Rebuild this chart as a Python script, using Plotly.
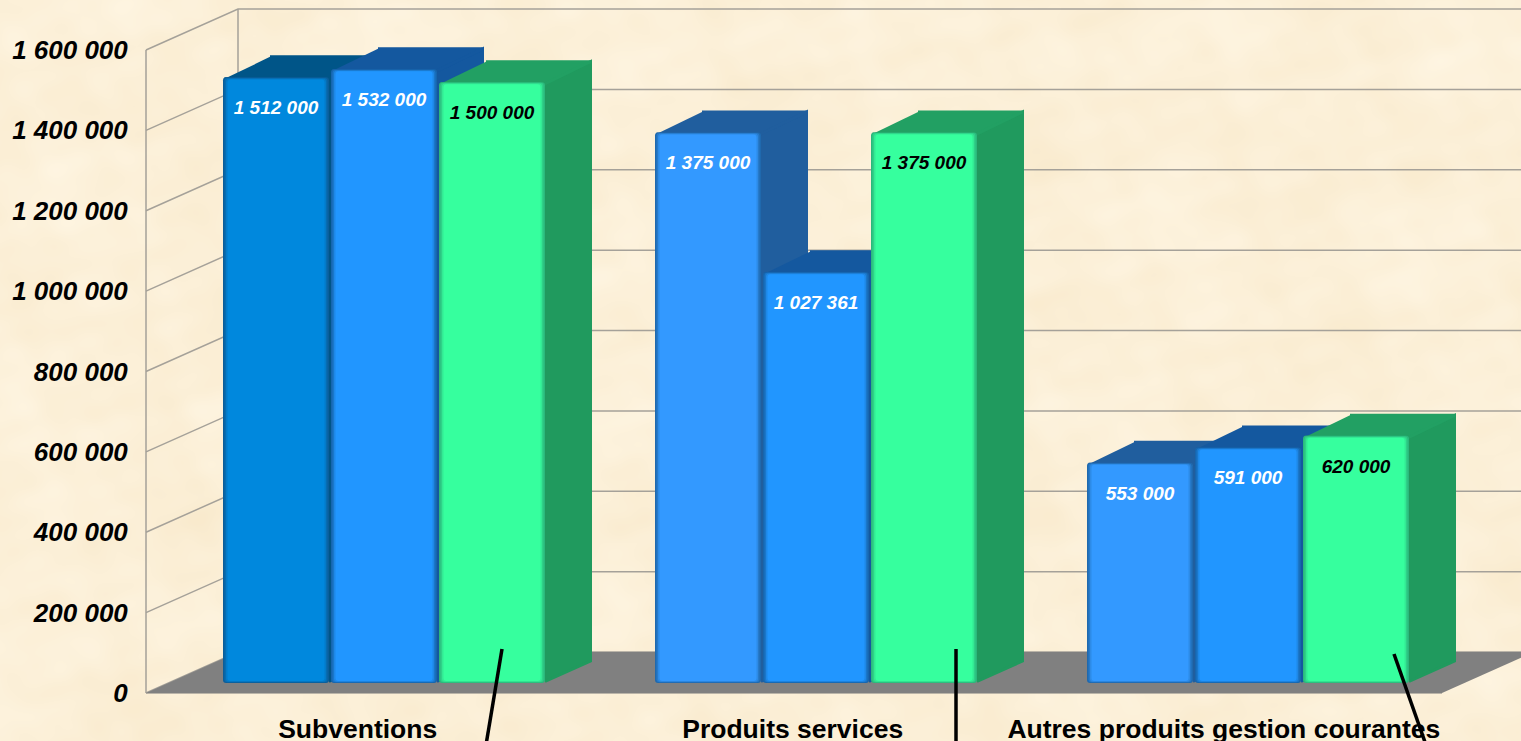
import base64, struct, zlib
import numpy as np
import plotly.graph_objects as go

categories = ["Subventions", "Produits services", "Autres produits gestion courantes"]
series_a = [1512000, 1375000, 553000]
series_b = [1532000, 1027361, 591000]
series_c = [1500000, 1375000, 620000]
tick_values = [0, 200000, 400000, 600000, 800000, 1000000, 1200000, 1400000, 1600000]
tick_labels = ["0", "200 000", "400 000", "600 000", "800 000", "1 000 000", "1 200 000", "1 400 000", "1 600 000"]
value_labels_a = ["1 512 000", "1 375 000", "553 000"]
value_labels_b = ["1 532 000", "1 027 361", "591 000"]
value_labels_c = ["1 500 000", "1 375 000", "620 000"]

W, H = 1521, 741
PX_X = 432.0
KY = 643 / 1600000
X0 = 146
Y0 = 693
BAR_Y0 = 685
BAR_BOTTOM = 683
DX = 47 / PX_X
DY = 22 / KY
SHIFT = (Y0 - BAR_Y0) / KY
BASE2 = (BAR_Y0 - BAR_BOTTOM) / KY
PITCH = 0.25
BAR_W = 106 / PX_X
PLANE = 22 / PX_X
WALL_DX = 92 / PX_X
WALL_DY = 41 / KY

series = [
    dict(v=series_a, t=value_labels_a, front=["#0088DD", "#3399FF", "#3399FF"],
         top=["#005588", "#205E9E", "#205E9E"], side=["#005588", "#205E9E", "#205E9E"],
         edge=["#0B5E9A", "#1F69AE", "#1F69AE"], text="#FFFFFF", off=-PITCH),
    dict(v=series_b, t=value_labels_b, front=["#2196FF", "#2196FF", "#2196FF"],
         top=["#14589F", "#14589F", "#14589F"], side=["#14589F", "#14589F", "#14589F"],
         edge=["#1766AE", "#1766AE", "#1766AE"], text="#FFFFFF", off=0.0),
    dict(v=series_c, t=value_labels_c, front=["#36FF9E"] * 3,
         top=["#22A063"] * 3, side=["#209A5E"] * 3,
         edge=["#2BB87C"] * 3, text="#000000", off=PITCH),
]


def texture():
    yy, xx = np.mgrid[0:H, 0:W]
    n = np.zeros((H, W))
    for fx, fy, ph, a in [(0.011, 0.017, 0.3, 1.6), (0.023, 0.009, 1.7, 1.4), (0.041, 0.037, 2.9, 1.1),
                          (0.067, 0.053, 0.8, 0.8), (0.019, 0.061, 4.1, 0.9), (0.097, 0.083, 5.3, 0.6),
                          (0.131, 0.029, 2.2, 0.5), (0.007, 0.113, 3.6, 0.6)]:
        n += a * np.sin(fx * xx + fy * yy + ph) * np.sin(fy * xx * 0.7 - fx * yy * 1.3 + ph * 2)
    rgb = np.stack([252 + 0.5 * n, 240 + 1.0 * n, 216 + 1.9 * n], axis=-1)
    rgb = np.clip(rgb, 0, 255).astype(np.uint8)
    raw = b"".join(b"\x00" + rgb[i].tobytes() for i in range(H))

    def chunk(tag, data):
        return struct.pack(">I", len(data)) + tag + data + struct.pack(">I", zlib.crc32(tag + data))

    png = b"\x89PNG\r\n\x1a\n" + chunk(b"IHDR", struct.pack(">IIBBBBB", W, H, 8, 2, 0, 0, 0)) \
        + chunk(b"IDAT", zlib.compress(raw, 6)) + chunk(b"IEND", b"")
    return "data:image/png;base64," + base64.b64encode(png).decode()


def mix(c1, c2, t):
    a = [int(c1[i:i + 2], 16) for i in (1, 3, 5)]
    b = [int(c2[i:i + 2], 16) for i in (1, 3, 5)]
    return "#%02X%02X%02X" % tuple(round(a[i] + (b[i] - a[i]) * t) for i in range(3))


fig = go.Figure()
GRID = "#A5A199"
x_left, x_right = 0.0, 3.0


def poly(xs, ys, color, lw=0.0):
    fig.add_trace(go.Scatter(x=xs, y=ys, mode="lines", fill="toself", fillcolor=color,
                             line=dict(color=color, width=lw), hoverinfo="skip", showlegend=False))


# walls and grid
gx, gy = [], []
for t in tick_values:
    gx += [x_left, x_left + WALL_DX, x_right + WALL_DX, None]
    gy += [t, t + WALL_DY, t + WALL_DY, None]
gx += [x_left, x_left, None, x_left + WALL_DX, x_left + WALL_DX, None, x_left, x_right]
gy += [0, tick_values[-1], None, WALL_DY, tick_values[-1] + WALL_DY, None, 0, 0]
fig.add_trace(go.Scatter(x=gx, y=gy, mode="lines", line=dict(color=GRID, width=1.5),
                         hoverinfo="skip", showlegend=False))

# floor
poly([x_left, x_right, x_right + WALL_DX, x_left + WALL_DX],
     [0, 0, WALL_DY, WALL_DY], "#808080")

# side and top faces, left to right, slightly inset and stroked so the corners round off
INX = 1.5 / PX_X
INY = 1.5 / KY
for g in range(3):
    for s in series:
        c = g + 0.5 + PLANE + s["off"]
        L, R = c - BAR_W / 2, c + BAR_W / 2
        top = s["v"][g] + SHIFT
        bottom = (Y0 - BAR_BOTTOM) / KY
        poly([R, R + DX - INX, R + DX - INX, R],
             [top - INY, top + DY - INY, bottom + DY, bottom + INY], s["side"][g], 3)
        poly([L + INX, R, R + DX - INX, L + DX],
             [top - INY, top - INY, top + DY - INY, top + DY - INY], s["top"][g], 3)

# bar fronts with soft bevel edges
LAYERS = [(0, 0.0), (1.5, 0.35), (3, 0.7), (4.5, 1.0)]
for s in series:
    xs = [g + 0.5 + PLANE + s["off"] for g in range(3)]
    for inset, t in LAYERS:
        colors = [mix(s["edge"][i], s["front"][i], t) for i in range(3)]
        ins_v = inset * 0.45 / KY
        base = BASE2 + ins_v
        fig.add_trace(go.Bar(
            x=xs, y=[v - base - ins_v for v in s["v"]], base=[base] * 3,
            width=BAR_W - 2 * inset / PX_X,
            marker=dict(color=colors, line=dict(width=0)),
            yaxis="y2", hoverinfo="skip", showlegend=False))

# value labels
LABEL_DROP = 32 / KY
for s in series:
    fig.add_trace(go.Scatter(
        x=[g + 0.5 + PLANE + s["off"] for g in range(3)],
        y=[v - LABEL_DROP for v in s["v"]],
        mode="text", text=s["t"], yaxis="y2",
        textfont=dict(family="Liberation Sans", size=19, color=s["text"], weight="bold", style="italic"),
        textposition="middle center", hoverinfo="skip", showlegend=False))


def px(x, y):
    return x / W, 1 - y / H


leaders = [((502, 649), (486, 745)), ((956, 649), (956, 745)), ((1394, 654), (1426, 745))]
shapes = []
for a, b in leaders:
    xa, ya = px(*a)
    xb, yb = px(*b)
    shapes.append(dict(type="line", xref="paper", yref="paper", x0=xa, y0=ya, x1=xb, y1=yb,
                       line=dict(color="#000000", width=3.5), layer="above"))

fig.update_layout(
    width=W, height=H, margin=dict(l=0, r=0, t=0, b=0, autoexpand=False),
    paper_bgcolor="#FCF0D8", plot_bgcolor="rgba(0,0,0,0)",
    barmode="overlay", barcornerradius=3, showlegend=False,
    images=[dict(source=texture(), xref="paper", yref="paper", x=0, y=1, sizex=1, sizey=1,
                 sizing="stretch", layer="below", xanchor="left", yanchor="top")],
    shapes=shapes,
    xaxis=dict(range=[-X0 / PX_X, (W - X0) / PX_X], domain=[0, 1], anchor="free", position=(H - Y0) / H,
               tickmode="array", tickvals=[0.49, 1.497, 2.495], ticktext=categories,
               ticks="outside", ticklen=12, tickcolor="rgba(0,0,0,0)", showgrid=False, zeroline=False,
               showline=False,
               tickfont=dict(family="Liberation Sans", size=26.5, color="#000000", weight="bold")),
    yaxis=dict(range=[(Y0 - H) / KY, Y0 / KY], domain=[0, 1], anchor="free", position=X0 / W,
               tickmode="array", tickvals=tick_values, ticktext=tick_labels,
               ticks="outside", ticklen=13, tickcolor="rgba(0,0,0,0)", showgrid=False, zeroline=False,
               showline=False,
               tickfont=dict(family="Liberation Sans", size=26, color="#000000", weight="bold", style="italic")),
    yaxis2=dict(range=[(BAR_Y0 - H) / KY, BAR_Y0 / KY], domain=[0, 1], overlaying="y", visible=False),
)

fig.write_html("out.html", config={"displayModeBar": False},
               post_script="document.body.style.margin='0';document.body.style.overflow='hidden';")
